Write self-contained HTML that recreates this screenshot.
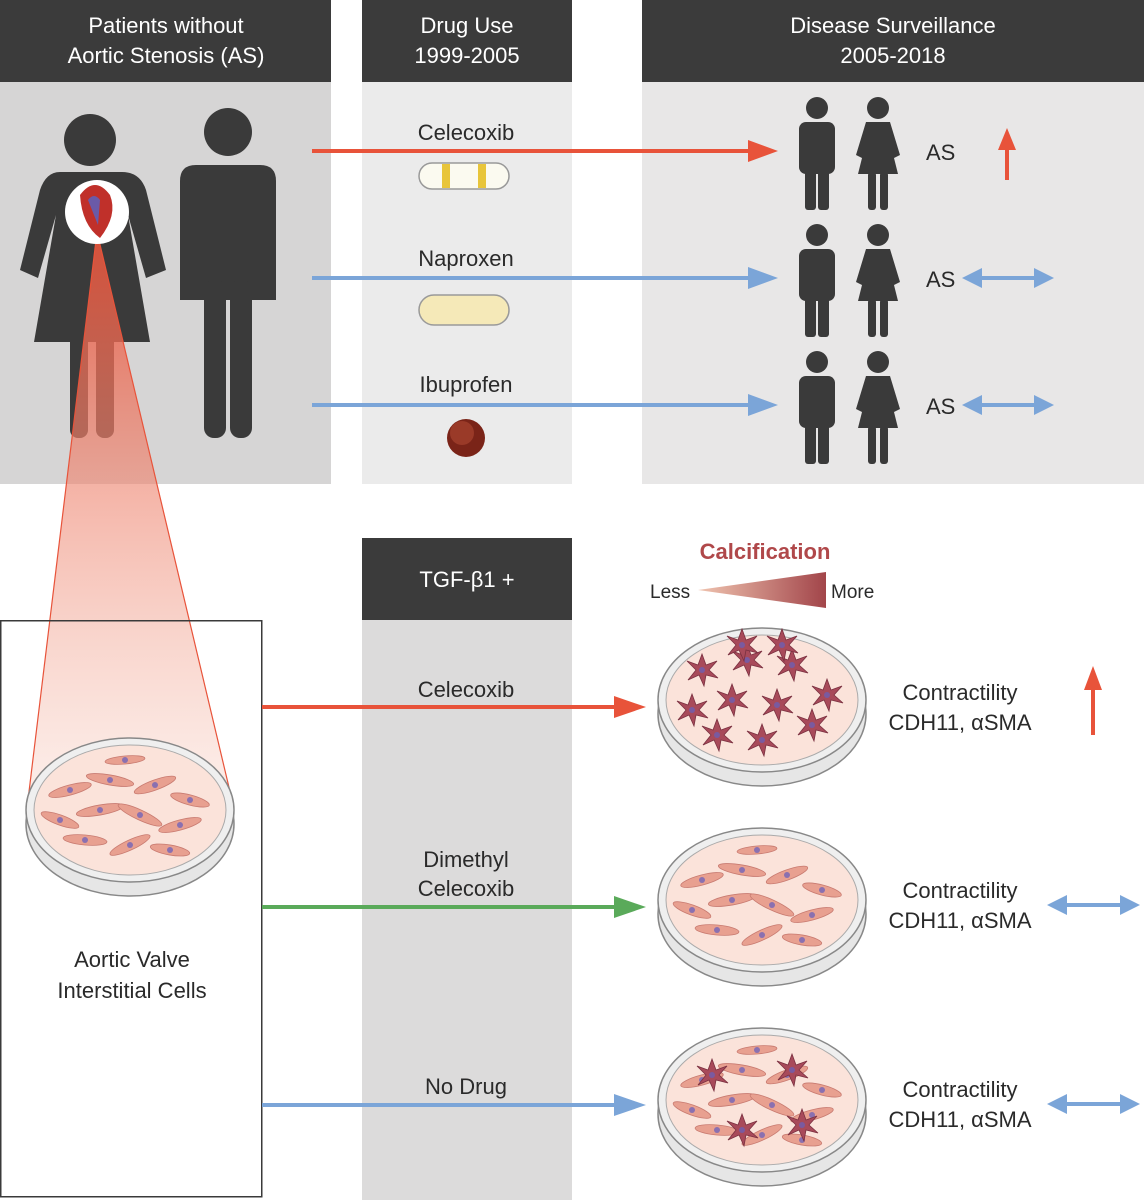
<!DOCTYPE html>
<html><head><meta charset="utf-8"><style>
body{margin:0;background:#fff}
svg{display:block}
text{font-family:"Liberation Sans",sans-serif}
</style></head><body>
<svg width="1144" height="1200" viewBox="0 0 1144 1200" xmlns="http://www.w3.org/2000/svg">
<defs>
<linearGradient id="tri" x1="0" y1="0" x2="0" y2="1"><stop offset="0" stop-color="#e8533a" stop-opacity="0.9"/><stop offset="1" stop-color="#f6c7b8" stop-opacity="0.3"/></linearGradient>
<linearGradient id="calc" x1="0" y1="0" x2="1" y2="0"><stop offset="0" stop-color="#f0c4b0"/><stop offset="1" stop-color="#a2454a"/></linearGradient>
<g id="man">
<circle cx="0" cy="-42" r="11" fill="#3a3a3a"/>
<rect x="-18" y="-28" width="36" height="52" rx="7" fill="#3a3a3a"/>
<rect x="-12" y="20" width="11" height="40" rx="3" fill="#3a3a3a"/>
<rect x="1" y="20" width="11" height="40" rx="3" fill="#3a3a3a"/>
<rect x="-17" y="-22" width="4" height="40" fill="#ddd" opacity="0"/>
</g>
<g id="woman">
<circle cx="0" cy="-42" r="11" fill="#3a3a3a"/>
<path d="M-12,-28 L12,-28 L22,5 L16,8 L12,-8 L20,24 L-20,24 L-12,-8 L-16,8 L-22,5 Z" fill="#3a3a3a"/>
<rect x="-10" y="22" width="8" height="38" rx="3" fill="#3a3a3a"/>
<rect x="2" y="22" width="8" height="38" rx="3" fill="#3a3a3a"/>
</g>
<g id="cellsN">
<g fill="#e8a090" stroke="#c87a70" stroke-width="0.8">
<ellipse cx="-60" cy="-20" rx="22" ry="5" transform="rotate(-15 -60 -20)"/>
<ellipse cx="-20" cy="-30" rx="24" ry="5" transform="rotate(10 -20 -30)"/>
<ellipse cx="25" cy="-25" rx="22" ry="5" transform="rotate(-20 25 -25)"/>
<ellipse cx="60" cy="-10" rx="20" ry="5" transform="rotate(15 60 -10)"/>
<ellipse cx="-70" cy="10" rx="20" ry="5" transform="rotate(20 -70 10)"/>
<ellipse cx="-30" cy="0" rx="24" ry="5" transform="rotate(-10 -30 0)"/>
<ellipse cx="10" cy="5" rx="24" ry="5" transform="rotate(25 10 5)"/>
<ellipse cx="50" cy="15" rx="22" ry="5" transform="rotate(-15 50 15)"/>
<ellipse cx="-45" cy="30" rx="22" ry="5" transform="rotate(5 -45 30)"/>
<ellipse cx="0" cy="35" rx="22" ry="5" transform="rotate(-25 0 35)"/>
<ellipse cx="40" cy="40" rx="20" ry="5" transform="rotate(10 40 40)"/>
<ellipse cx="-5" cy="-50" rx="20" ry="4" transform="rotate(-5 -5 -50)"/>
</g>
<g fill="#8a70b0">
<circle cx="-60" cy="-20" r="3"/><circle cx="-20" cy="-30" r="3"/><circle cx="25" cy="-25" r="3"/><circle cx="60" cy="-10" r="3"/><circle cx="-70" cy="10" r="3"/><circle cx="-30" cy="0" r="3"/><circle cx="10" cy="5" r="3"/><circle cx="50" cy="15" r="3"/><circle cx="-45" cy="30" r="3"/><circle cx="0" cy="35" r="3"/><circle cx="40" cy="40" r="3"/><circle cx="-5" cy="-50" r="3"/>
</g>
</g>
<g id="star">
<path d="M0,-16 L4,-5 L15,-9 L7,0 L16,8 L4,5 L2,16 L-3,5 L-14,10 L-6,0 L-15,-9 L-4,-5 Z" fill="#a84a5a" stroke="#7a3040" stroke-width="0.8"/>
<circle r="3" fill="#7a5aa0"/>
</g>
<g id="dish">
<ellipse cx="0" cy="14" rx="104" ry="72" fill="#e6e6e6" stroke="#888" stroke-width="1.5"/>
<ellipse cx="0" cy="0" rx="104" ry="72" fill="#efefef" stroke="#888" stroke-width="1.5"/>
<ellipse cx="0" cy="0" rx="96" ry="65" fill="#fbe3da" stroke="#aaa" stroke-width="1"/>
</g>
</defs>

<!-- top headers -->
<rect x="0" y="0" width="331" height="82" fill="#3b3b3b"/>
<rect x="362" y="0" width="210" height="82" fill="#3b3b3b"/>
<rect x="642" y="0" width="502" height="82" fill="#3b3b3b"/>
<g fill="#fff" font-size="22" text-anchor="middle">
<text x="166" y="33">Patients without</text><text x="166" y="63">Aortic Stenosis (AS)</text>
<text x="467" y="33">Drug Use</text><text x="467" y="63">1999-2005</text>
<text x="893" y="33">Disease Surveillance</text><text x="893" y="63">2005-2018</text>
</g>
<rect x="0" y="82" width="331" height="402" fill="#d6d5d5"/>
<rect x="362" y="82" width="210" height="402" fill="#ebebeb"/>
<rect x="642" y="82" width="502" height="402" fill="#e8e7e7"/>

<!-- big figures -->
<circle cx="228" cy="132" r="24" fill="#3a3a3a"/>
<path d="M196,165 L260,165 Q276,165 276,181 L276,300 L180,300 L180,181 Q180,165 196,165 Z" fill="#3a3a3a"/>
<rect x="204" y="280" width="22" height="158" rx="10" fill="#3a3a3a"/>
<rect x="230" y="280" width="22" height="158" rx="10" fill="#3a3a3a"/>
<circle cx="90" cy="140" r="26" fill="#3a3a3a"/>
<path d="M60,172 L122,172 Q140,172 146,190 L166,270 L146,278 L128,215 L150,342 L34,342 L56,215 L38,278 L20,270 L40,190 Q46,172 60,172 Z" fill="#3a3a3a"/>
<rect x="70" y="330" width="18" height="108" rx="8" fill="#3a3a3a"/>
<rect x="96" y="330" width="18" height="108" rx="8" fill="#3a3a3a"/>
<rect x="178" y="185" width="4" height="0" fill="#3a3a3a"/>
<!-- triangle -->
<polygon points="97,232 28,800 232,800" fill="url(#tri)"/>
<line x1="97" y1="232" x2="28" y2="800" stroke="#e8533a" stroke-width="1.2"/>
<line x1="97" y1="232" x2="232" y2="800" stroke="#e8533a" stroke-width="1.2"/>
<circle cx="97" cy="212" r="32" fill="#fff"/>
<path d="M80,195 Q95,175 110,195 Q118,215 100,238 Q82,225 80,195 Z" fill="#c0302a"/>
<path d="M88,200 Q94,192 100,200 L98,225 Z" fill="#6a5aa8"/>

<!-- pills -->
<rect x="419" y="163" width="90" height="26" rx="13" fill="#fbfaf0" stroke="#999" stroke-width="1.5"/>
<rect x="442" y="164" width="8" height="24" fill="#e8c53a"/><rect x="478" y="164" width="8" height="24" fill="#e8c53a"/>
<rect x="419" y="295" width="90" height="30" rx="15" fill="#f5e9b8" stroke="#999" stroke-width="1.5"/>
<circle cx="466" cy="438" r="19" fill="#7a2418"/>
<circle cx="462" cy="433" r="12" fill="#9a3a28"/>
<g font-size="22" fill="#2a2a2a" text-anchor="middle">
<text x="466" y="140">Celecoxib</text><text x="466" y="266">Naproxen</text><text x="466" y="392">Ibuprofen</text>
</g>

<!-- top arrows -->
<g stroke-width="4">
<line x1="312" y1="151" x2="752" y2="151" stroke="#e8533a"/>
<line x1="312" y1="278" x2="752" y2="278" stroke="#7ba5d8"/>
<line x1="312" y1="405" x2="752" y2="405" stroke="#7ba5d8"/>
</g>
<polygon points="778,151 748,140 748,162" fill="#e8533a"/>
<polygon points="778,278 748,267 748,289" fill="#7ba5d8"/>
<polygon points="778,405 748,394 748,416" fill="#7ba5d8"/>

<!-- small figures -->
<use href="#man" x="817" y="150"/><use href="#woman" x="878" y="150"/>
<use href="#man" x="817" y="277"/><use href="#woman" x="878" y="277"/>
<use href="#man" x="817" y="404"/><use href="#woman" x="878" y="404"/>
<g font-size="22" fill="#2a2a2a"><text x="926" y="160">AS</text><text x="926" y="287">AS</text><text x="926" y="414">AS</text></g>
<line x1="1007" y1="180" x2="1007" y2="145" stroke="#e8533a" stroke-width="4"/>
<polygon points="1007,128 998,150 1016,150" fill="#e8533a"/>
<g fill="#7ba5d8" stroke="#7ba5d8">
<line x1="975" y1="278" x2="1040" y2="278" stroke-width="4"/>
<polygon points="962,278 982,268 982,288" stroke="none"/><polygon points="1054,278 1034,268 1034,288" stroke="none"/>
<line x1="975" y1="405" x2="1040" y2="405" stroke-width="4"/>
<polygon points="962,405 982,395 982,415" stroke="none"/><polygon points="1054,405 1034,395 1034,415" stroke="none"/>
</g>

<!-- bottom -->
<rect x="362" y="538" width="210" height="82" fill="#3b3b3b"/>
<text x="467" y="587" fill="#fff" font-size="22" text-anchor="middle">TGF-β1 +</text>
<rect x="362" y="620" width="210" height="580" fill="#dcdbdb"/>
<rect x="0.75" y="620.75" width="261" height="576" fill="none" stroke="#3a3a3a" stroke-width="1.5"/>
<polygon points="97,232 28,800 232,800" fill="url(#tri)" opacity="0"/>
<use href="#dish" x="130" y="810"/>
<use href="#cellsN" x="130" y="810"/>
<g font-size="22" fill="#2a2a2a" text-anchor="middle">
<text x="132" y="967">Aortic Valve</text><text x="132" y="998">Interstitial Cells</text>
<text x="466" y="697">Celecoxib</text>
<text x="466" y="867">Dimethyl</text><text x="466" y="896">Celecoxib</text>
<text x="466" y="1094">No Drug</text>
</g>
<text x="765" y="559" font-size="22" fill="#b0484a" text-anchor="middle" font-weight="bold">Calcification</text>
<polygon points="698,590 826,572 826,608" fill="url(#calc)"/>
<text x="650" y="598" font-size="19" fill="#2a2a2a">Less</text>
<text x="831" y="598" font-size="19" fill="#2a2a2a">More</text>

<g stroke-width="4">
<line x1="262" y1="707" x2="620" y2="707" stroke="#e8533a"/>
<line x1="262" y1="907" x2="620" y2="907" stroke="#5aaa5a"/>
<line x1="262" y1="1105" x2="620" y2="1105" stroke="#7ba5d8"/>
</g>
<polygon points="646,707 614,696 614,718" fill="#e8533a"/>
<polygon points="646,907 614,896 614,918" fill="#5aaa5a"/>
<polygon points="646,1105 614,1094 614,1116" fill="#7ba5d8"/>

<use href="#dish" x="762" y="700"/>
<g transform="translate(762,700)">
<use href="#star" x="-60" y="-30"/><use href="#star" x="-15" y="-40"/><use href="#star" x="30" y="-35"/><use href="#star" x="65" y="-5"/>
<use href="#star" x="-70" y="10"/><use href="#star" x="-30" y="0"/><use href="#star" x="15" y="5"/><use href="#star" x="50" y="25"/>
<use href="#star" x="-45" y="35"/><use href="#star" x="0" y="40"/><use href="#star" x="-20" y="-55"/><use href="#star" x="20" y="-55"/>
</g>
<use href="#dish" x="762" y="900"/><use href="#cellsN" x="762" y="900"/>
<use href="#dish" x="762" y="1100"/><use href="#cellsN" x="762" y="1100"/>
<g transform="translate(762,1100)"><use href="#star" x="-50" y="-25"/><use href="#star" x="40" y="25"/><use href="#star" x="-20" y="30"/><use href="#star" x="30" y="-30"/></g>

<g font-size="22" fill="#2a2a2a" text-anchor="middle">
<text x="960" y="700">Contractility</text><text x="960" y="730">CDH11, αSMA</text>
<text x="960" y="898">Contractility</text><text x="960" y="928">CDH11, αSMA</text>
<text x="960" y="1097">Contractility</text><text x="960" y="1127">CDH11, αSMA</text>
</g>
<line x1="1093" y1="735" x2="1093" y2="685" stroke="#e8533a" stroke-width="4"/>
<polygon points="1093,666 1084,690 1102,690" fill="#e8533a"/>
<g fill="#7ba5d8" stroke="#7ba5d8">
<line x1="1060" y1="905" x2="1126" y2="905" stroke-width="4"/>
<polygon points="1047,905 1067,895 1067,915" stroke="none"/><polygon points="1140,905 1120,895 1120,915" stroke="none"/>
<line x1="1060" y1="1104" x2="1126" y2="1104" stroke-width="4"/>
<polygon points="1047,1104 1067,1094 1067,1114" stroke="none"/><polygon points="1140,1104 1120,1094 1120,1114" stroke="none"/>
</g>
</svg>
</body></html>
